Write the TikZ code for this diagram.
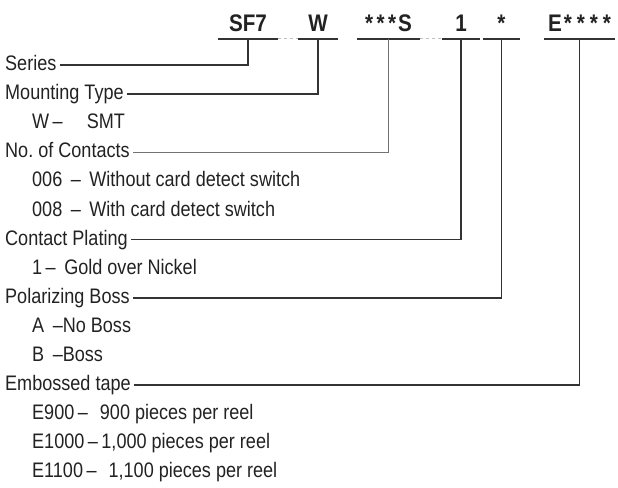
\documentclass[tikz,border=0pt]{standalone}
\usepackage{fontspec}
\setmainfont{Liberation Sans}[FakeStretch=0.86]
\usepackage{tikz}
\usetikzlibrary{positioning}

\definecolor{inkgray}{HTML}{222222}
\definecolor{linegray}{HTML}{333333}

\begin{document}
\frenchspacing
\begin{tikzpicture}[
    x=1pt, y=1pt,
    code/.style={inner sep=0, minimum width=#1, text height=17pt, text depth=7pt, anchor=south, font=\fontsize{24}{27}\selectfont\bfseries, text=inkgray},
    field/.style={anchor=west, inner xsep=3pt, inner ysep=0, text height=15pt, text depth=4pt, font=\fontsize{21}{25}\selectfont, text=inkgray},
    choice/.style={field},
    bar/.style={draw=linegray, line width=1.3pt},
    link/.style={draw=linegray, line width=1.4pt},
    gap/.style={draw=black!25, line width=1pt, dash pattern=on 3pt off 3pt}
]
    \useasboundingbox (0,0) rectangle (618,-487);

    % part number fields
    \node[code=59pt] (sf7) at (248,-39) {SF7};
    \node[code=40pt] (w) at (318,-39) {W};
    \node[code=63pt] (con) at (388.5,-39) {*\hspace{3.5pt}*\hspace{3.5pt}*\hspace{2pt}S};
    \node[code=38pt] (one) at (461,-39) {1};
    \node[code=37pt] (pol) at (501.5,-39) {*};
    \node[code=71pt] (emb) at (579.5,-39) {E\hspace{2pt}*\hspace{5pt}*\hspace{5pt}*\hspace{5pt}*};
    \foreach \n in {sf7, w, con, one, pol, emb}
        \draw[bar] (\n.south west) -- (\n.south east);
    \draw[gap] (sf7.south east) -- (w.south west);
    \draw[gap] (con.south east) -- (one.south west);

    % labels
    \node[field] (series) at (2,-65) {Series};
    \node[field] (mount) at (2,-94.1) {Mounting Type};
    \node[choice] (smt) at (29,-123.2) {W\,--\hspace{24pt}SMT};
    \node[field] (contacts) at (2,-152.3) {No. of Contacts};
    \node[choice] (c006) at (29,-181.4) {006\, -- \,Without card detect switch};
    \node[choice] (c008) at (29,-210.5) {008\, -- \,With card detect switch};
    \node[field] (plating) at (2,-239.6) {Contact Plating};
    \node[choice] (gold) at (29,-268.7) {1\,-- \,Gold over Nickel};
    \node[field] (boss) at (2,-297.8) {Polarizing Boss};
    \node[choice] (nob) at (29,-326.9) {A \,--No Boss};
    \node[choice] (yesb) at (29,-356) {B \,--Boss};
    \node[field] (tape) at (2,-385.1) {Embossed tape};
    \node[choice] (e900) at (29,-414.2) {E900\,-- \,\,900 pieces per reel};
    \node[choice] (e1000) at (29,-443.3) {E1000\,--\,1,000 pieces per reel};
    \node[choice] (e1100) at (29,-472.4) {E1100\,-- \,\,1,100 pieces per reel};

    % leaders
    \draw[link] (series.east) -| (sf7.south);
    \draw[link] (mount.east) -| (w.south);
    \draw[link, draw=black!55] (contacts.east) -| (con.south);
    \draw[link] (plating.east) -| (one.south);
    \draw[link] (boss.east) -| (pol.south);
    \draw[link] (tape.east) -| (emb.south);
\end{tikzpicture}
\end{document}
